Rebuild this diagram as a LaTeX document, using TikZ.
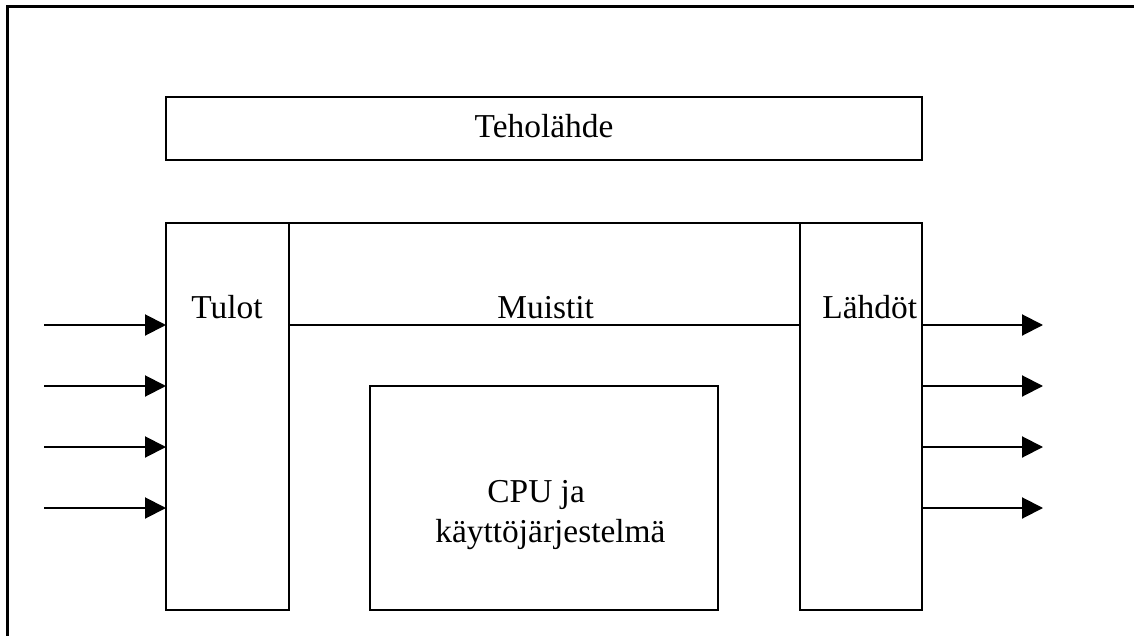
\documentclass[tikz,border=0pt]{standalone}
\usepackage{fontspec}
\setmainfont{Liberation Serif}
\usetikzlibrary{arrows.meta}
\begin{document}
\begin{tikzpicture}[x=0.5pt,y=-0.5pt,
  box/.style={draw, line width=1.2pt, inner sep=0pt, outer sep=0pt, anchor=north west},
  lbl/.style={font=\fontsize{16.7}{20}\selectfont, inner sep=0pt, anchor=base west},
  arr/.style={line width=1pt, -{Triangle[length=10.5pt,width=10.5pt]}}]
\useasboundingbox (0,0) rectangle (1134,636);
% frame (top and left edges)
\draw[line width=1.5pt] (7,636) -- (7,7) -- (1134,7);

% blocks
\node[box, minimum width=378pt, minimum height=31.5pt] (teho) at (166,97) {};
\node[box, minimum width=61.5pt, minimum height=193.5pt] (tulot) at (166,223) {};
\node[box, minimum width=255.5pt, minimum height=51pt] (muistit) at (289,223) {};
\node[box, minimum width=61pt, minimum height=193.5pt] (lahdot) at (800,223) {};
\node[box, minimum width=174pt, minimum height=112pt] (cpu) at (370,386) {};

% labels
\node[lbl, anchor=base] (tehoL) at (544,138) {Teholähde};
\node[lbl] (tulotL) at (191,318) {Tulot};
\node[lbl] (muistitL) at (497,318) {Muistit};
\node[lbl] (lahdotL) at (822,318) {Lähdöt};
\node[lbl] (cpuL1) at (487,502) {CPU ja};
\node[lbl] (cpuL2) at (435,542) {käyttöjärjestelmä};

% inputs and outputs
\foreach \i/\y in {1/325,2/386,3/447,4/508}{
  \coordinate (in\i) at (44,\y);
  \coordinate (out\i) at (1043,\y);
  \draw[arr] (in\i) -- (in\i -| tulot.west);
  \draw[arr] (lahdot.east |- out\i) -- (out\i);
}
\end{tikzpicture}
\end{document}
